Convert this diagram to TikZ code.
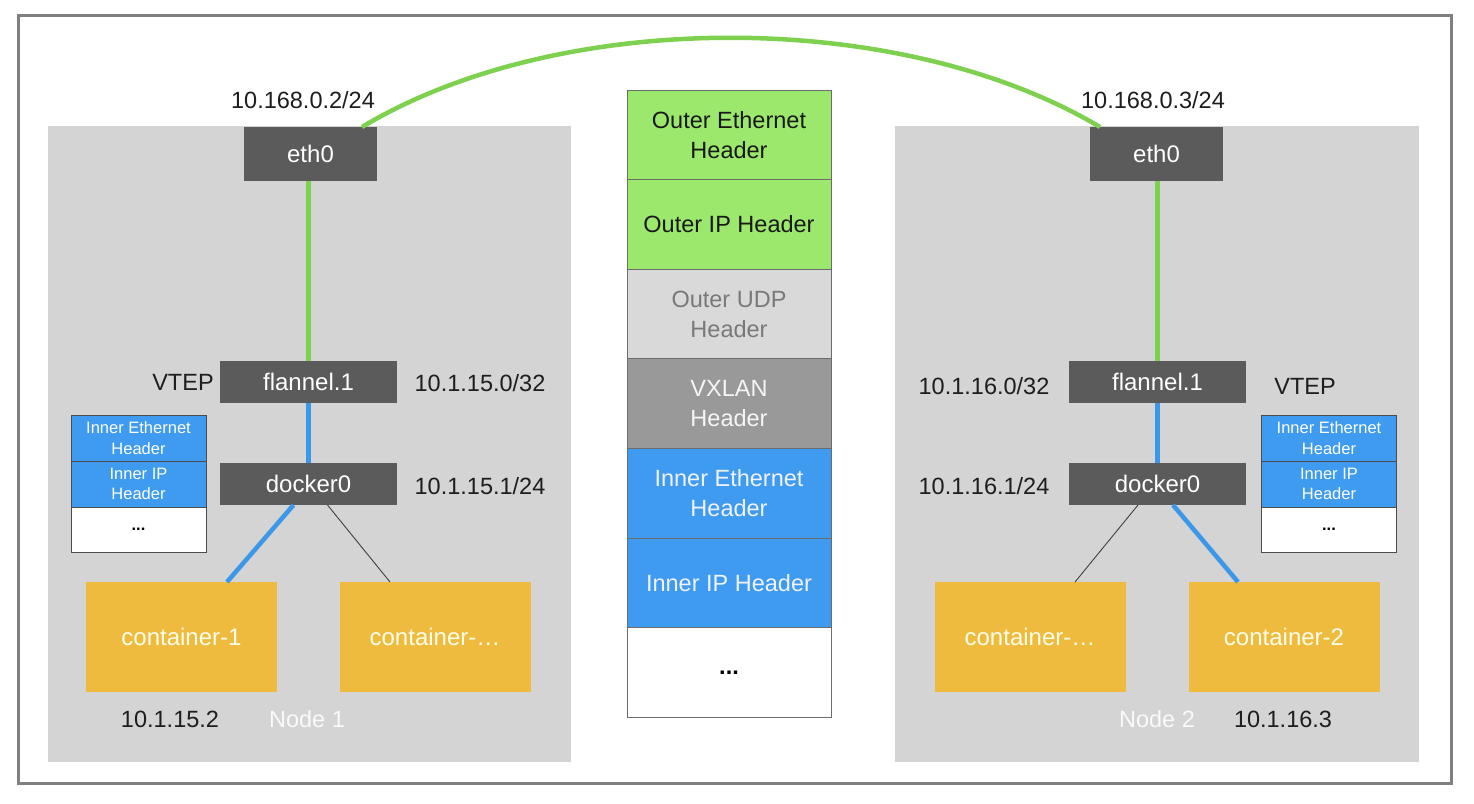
\documentclass[tikz,border=0pt]{standalone}
\usepackage{fontspec}
\setmainfont{Liberation Sans}
\usetikzlibrary{positioning}
\definecolor{panelgray}{HTML}{D4D4D4}
\definecolor{devgray}{HTML}{5B5B5B}
\definecolor{framegray}{HTML}{808080}
\definecolor{hdrgreen}{HTML}{9CE86C}
\definecolor{linegreen}{HTML}{7DD14F}
\definecolor{hdrblue}{HTML}{3E9BF0}
\definecolor{lineblue}{HTML}{3B97E8}
\definecolor{udpgray}{HTML}{D9D9D9}
\definecolor{vxgray}{HTML}{999999}
\definecolor{contorange}{HTML}{EFBB3E}
\definecolor{labelblack}{HTML}{1E1E1E}
\newcommand\bigf{\fontsize{23.5}{29}\selectfont}
\newcommand\devf{\fontsize{24}{29}\selectfont}
\newcommand\midf{\fontsize{23.5}{30}\selectfont}
\newcommand\smallf{\fontsize{16.5}{20.5}\selectfont}
\begin{document}
\begin{tikzpicture}[x=1pt,y=-1pt,
  panelbox/.style={fill=panelgray, draw=none, inner sep=0, outer sep=0},
  devbox/.style={fill=devgray, text=white, inner sep=0, outer sep=0, font=\devf},
  contbox/.style={fill=contorange, text={white!92!yellow}, inner sep=0, outer sep=0,
     minimum width=191, minimum height=110, font=\devf},
  iplabel/.style={text=labelblack, inner sep=0, font=\bigf},
  nodelabel/.style={text=white!96!gray, inner sep=0, font=\bigf},
  hdr/.style={inner sep=0, outer sep=0, minimum width=204, minimum height=89.6,
     draw=gray!85!black, line width=0.9pt, align=center, font=\midf},
  minihdr/.style={inner sep=0, outer sep=0, minimum width=135, minimum height=46,
     draw=gray!60!black, line width=0.9pt, align=center, font=\smallf},
  greenlink/.style={draw=linegreen, line width=4.5pt},
  bluelink/.style={draw=lineblue, line width=4.5pt},
  thinlink/.style={draw=black!75, line width=0.9pt}
]
\useasboundingbox (0,0) rectangle (1474,803);
\fill[white] (0,0) rectangle (1474,803);
\draw[framegray, line width=3pt] (18,15) rectangle (1451,783);

% panels
\node[panelbox, minimum width=523, minimum height=636] (panelL) at (309.5,444) {};
\node[panelbox, minimum width=524, minimum height=636] (panelR) at (1157,444) {};

% devices left
\node[devbox, minimum width=133, minimum height=54] (ethL) at (310.5,154) {eth0};
\node[devbox, minimum width=177, minimum height=42] (flanL) at (308.5,382) {flannel.1};
\node[devbox, minimum width=177, minimum height=42] (dockL) at (308.5,484) {docker0};
% devices right
\node[devbox, minimum width=133, minimum height=54] (ethR) at (1156.5,154) {eth0};
\node[devbox, minimum width=177, minimum height=42] (flanR) at (1157.5,382) {flannel.1};
\node[devbox, minimum width=177, minimum height=42] (dockR) at (1157.5,484) {docker0};

% containers
\node[contbox] (c1L) at (181.5,637) {container-1};
\node[contbox] (c2L) at (435,637) {container-\dots};
\node[contbox] (c1R) at (1030,637) {container-\dots};
\node[contbox] (c2R) at (1284,637) {container-2};

% labels
\node[iplabel] (ipEthL) at (303,100) {10.168.0.2/24};
\node[iplabel] (ipEthR) at (1153,100) {10.168.0.3/24};
\node[iplabel] (vtepL) at (183,382) {VTEP};
\node[iplabel] (vtepR) at (1305,386) {VTEP};
\node[iplabel] (ipFlanL) at (480,383) {10.1.15.0/32};
\node[iplabel] (ipDockL) at (480,486) {10.1.15.1/24};
\node[iplabel] (ipFlanR) at (984,386) {10.1.16.0/32};
\node[iplabel] (ipDockR) at (984,486) {10.1.16.1/24};
\node[iplabel] (ipC1L) at (170,719) {10.1.15.2};
\node[nodelabel] (node1) at (307,719) {Node 1};
\node[nodelabel] (node2) at (1157,719) {Node 2};
\node[iplabel] (ipC2R) at (1283,719) {10.1.16.3};

% mini stacks
\node[minihdr, fill=hdrblue, text=white] (mLa) at (138.5,438) {Inner Ethernet\\Header};
\node[minihdr, fill=hdrblue, text=white, below=0pt of mLa] (mLb) {Inner IP\\Header};
\node[minihdr, fill=white, text=black, minimum height=45, below=0pt of mLb] (mLc) {\textbf{...}};
\node[minihdr, fill=hdrblue, text=white] (mRa) at (1329,438) {Inner Ethernet\\Header};
\node[minihdr, fill=hdrblue, text=white, below=0pt of mRa] (mRb) {Inner IP\\Header};
\node[minihdr, fill=white, text=black, minimum height=45, below=0pt of mRb] (mRc) {\textbf{...}};

% central packet stack
\node[hdr, fill=hdrgreen, text=black!90] (h1) at (729,134.8) {Outer Ethernet\\Header};
\node[hdr, fill=hdrgreen, text=black!90, below=0pt of h1] (h2) {Outer IP Header};
\node[hdr, fill=udpgray, text=gray!95!black, below=0pt of h2] (h3) {Outer UDP\\Header};
\node[hdr, fill=vxgray, text=white!92!gray, below=0pt of h3] (h4) {VXLAN\\Header};
\node[hdr, fill=hdrblue, text=white!95!blue, below=0pt of h4] (h5) {Inner Ethernet\\Header};
\node[hdr, fill=hdrblue, text=white!95!blue, below=0pt of h5] (h6) {Inner IP Header};
\node[hdr, fill=white, text=black, below=0pt of h6] (h7) {\textbf{...}};

% links left
\draw[greenlink] (ethL.south -| flanL.north) -- (flanL.north);
\draw[bluelink] (flanL.south) -- (dockL.north);
\draw[bluelink] ([xshift=-15pt]dockL.south) -- ([xshift=45.5pt]c1L.north);
\draw[thinlink] ([xshift=19pt]dockL.south) -- ([xshift=-45pt]c2L.north);
% links right
\draw[greenlink] (ethR.south -| flanR.north) -- (flanR.north);
\draw[bluelink] (flanR.south) -- (dockR.north);
\draw[thinlink] ([xshift=-19.5pt]dockR.south) -- ([xshift=45pt]c1R.north);
\draw[bluelink] ([xshift=15.5pt]dockR.south) -- ([xshift=-46pt]c2R.north);

% arc between eth0 interfaces
\draw[greenlink] ([xshift=-15pt]ethL.north east) .. controls (560,8) and (900,8) .. ([xshift=10pt]ethR.north west);
\end{tikzpicture}
\end{document}
